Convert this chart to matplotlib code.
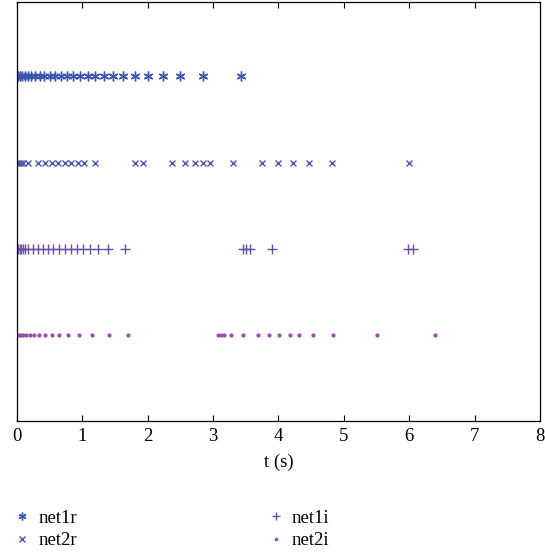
import matplotlib.pyplot as plt
import numpy as np

plt.rcParams['font.family'] = ['Liberation Serif', 'DejaVu Serif']

# spike times (s)
net1r = [0, 0.02, 0.05, 0.08, 0.12, 0.17, 0.22, 0.28, 0.35, 0.42, 0.5, 0.58,
         0.67, 0.76, 0.86, 0.97, 1.08, 1.2, 1.33, 1.47, 1.62, 1.81, 2.0, 2.24,
         2.5, 2.85, 3.43]
net2r = [0, 0.03, 0.06, 0.1, 0.17, 0.33, 0.43, 0.53, 0.63, 0.73, 0.83, 0.93,
         1.03, 1.2, 1.8, 1.93, 2.37, 2.57, 2.72, 2.85, 2.95, 3.31, 3.75, 4.0,
         4.22, 4.46, 4.82, 6.0]
net1i = [0, 0.02, 0.04, 0.06, 0.09, 0.12, 0.17, 0.25, 0.32, 0.4, 0.47, 0.55,
         0.64, 0.73, 0.83, 0.92, 1.01, 1.12, 1.24, 1.39, 1.65, 3.45, 3.5, 3.57,
         3.9, 5.98, 6.05]
net2i = [0, 0.03, 0.06, 0.09, 0.14, 0.2, 0.26, 0.34, 0.43, 0.54, 0.64, 0.78,
         0.95, 1.15, 1.41, 1.7, 3.08, 3.12, 3.17, 3.28, 3.45, 3.69, 3.86, 4.01,
         4.17, 4.32, 4.52, 4.84, 5.51, 6.4]

names = ['net1r', 'net2r', 'net1i', 'net2i']
rows = [4, 3, 2, 1]
markers = [(6, 2, 0), 'x', '+', '.']
sizes = [7, 5, 7, 4]
colors = ['#3b55b0', '#5058ae', '#6a4ea8', '#9a4eb0']

fig = plt.figure(figsize=(5.45, 5.54), dpi=100)
ax = fig.add_axes([0.031, 0.240, 0.960, 0.756])

for times, name, row, m, s, c in zip([net1r, net2r, net1i, net2i], names, rows,
                                     markers, sizes, colors):
    ax.plot(times, np.full(len(times), row), linestyle='none', marker=m,
            markersize=s, color=c, markeredgewidth=1.0, label=name)

ax.set_xlim(0, 8)
ax.set_ylim(0, 4.86)
ax.set_xticks(range(9))
ax.set_yticks([])
ax.tick_params(axis='x', direction='in', top=True, length=4, labelsize=13.5,
               pad=5, width=0.8)
ax.set_xlabel('t (s)', fontsize=13.5, labelpad=6)
for sp in ax.spines.values():
    sp.set_linewidth(0.9)

leg = fig.legend(loc='lower left', bbox_to_anchor=(-0.004, -0.022), ncol=2,
                 frameon=False, fontsize=13.5, handlelength=0.8,
                 handletextpad=0.45, columnspacing=10.2, labelspacing=0.3,
                 markerscale=0.8)

plt.savefig('out.png', dpi=100)
